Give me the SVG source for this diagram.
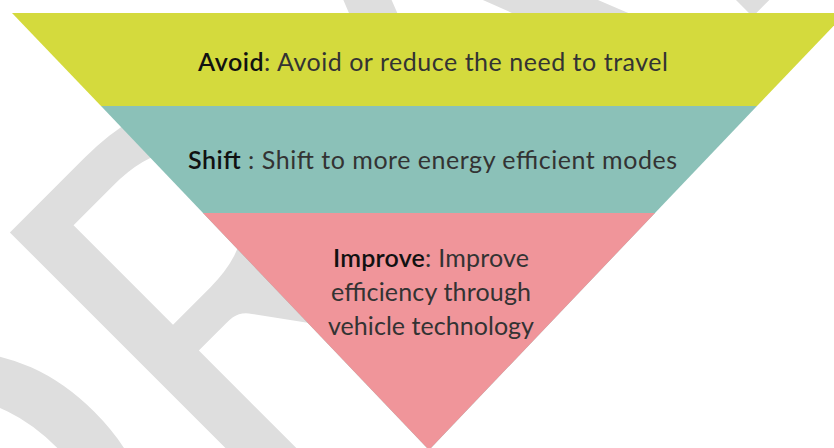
<svg xmlns="http://www.w3.org/2000/svg" width="834" height="448" viewBox="0 0 834 448">
<style>
.wm{font-family:Lato,"Open Sans",sans-serif;font-weight:400;fill:#dedede}
.lbl{font-family:Lato,"Open Sans","Liberation Sans",sans-serif;font-size:25px;fill:#333}
.hd{font-weight:600;fill:#111}
</style>
<rect width="834" height="448" fill="#fff"/>
<g id="watermark">
<text class="wm" font-size="520" transform="rotate(-45)" x="-595 -205" y="544">DRAFT</text>
</g>
<g id="band-avoid">
<polygon points="12,13 846,13 757,106 101,106" fill="#d4da3d"/>
<text class="lbl" x="198" y="71" textLength="470"><tspan class="hd">Avoid</tspan>: Avoid or reduce the need to travel</text>
</g>
<g id="band-shift">
<polygon points="101,106 757,106 429,450" fill="#8bc1b8"/>
<text class="lbl" x="188" y="169" textLength="489"><tspan class="hd">Shift</tspan> : Shift to more energy efficient modes</text>
</g>
<g id="band-improve">
<polygon points="203,213 655,213 429,450" fill="#f0959a"/>
<text class="lbl" x="431" y="267" text-anchor="middle" textLength="196"><tspan class="hd">Improve</tspan>: Improve</text>
<text class="lbl" x="431" y="301" text-anchor="middle" textLength="200">efficiency through</text>
<text class="lbl" x="431" y="335" text-anchor="middle" textLength="206">vehicle technology</text>
</g>
</svg>
